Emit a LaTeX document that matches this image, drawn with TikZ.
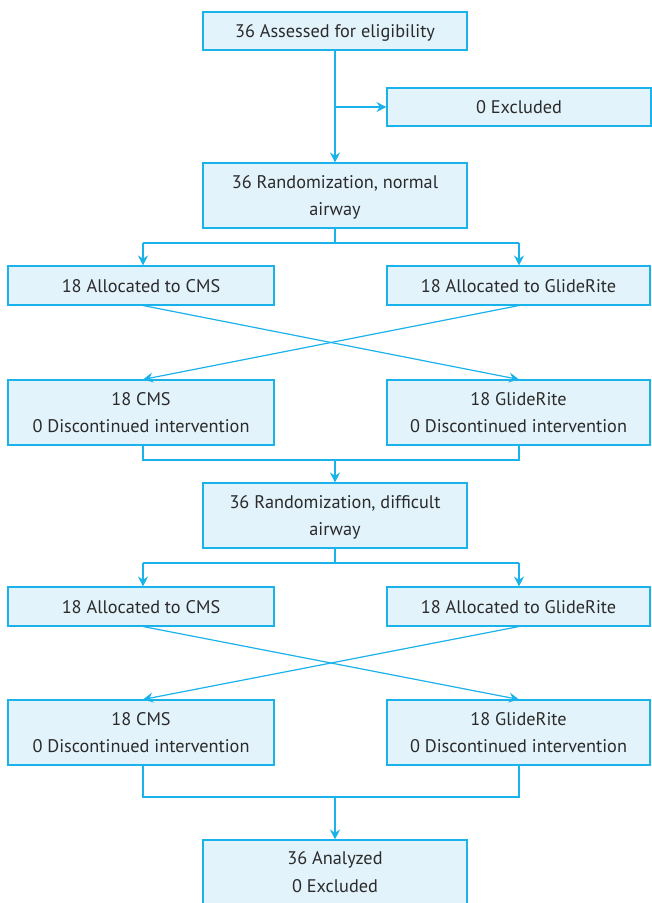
\documentclass[tikz,border=0pt]{standalone}
\usepackage{fontspec}
\setmainfont{PT Sans}
\usetikzlibrary{arrows.meta}
\definecolor{bordc}{HTML}{1AB2EA}
\definecolor{fillc}{HTML}{E2F3FB}
\definecolor{txtc}{HTML}{2B2B2B}
\tikzset{
  box/.style={draw=bordc, fill=fillc, line width=0.8pt, text=txtc, align=center,
    inner sep=0pt, text depth=0pt, font=\fontsize{13.7}{20.3}\selectfont},
  wbox/.style={box, minimum width=264*0.75pt},
  conn/.style={draw=bordc, line width=0.9pt},
  arr/.style={conn, -{Stealth[length=7.5pt,width=7.5pt,inset=2.5pt]}}
}
\begin{document}
\begin{tikzpicture}[x=0.75pt,y=-0.75pt]
\useasboundingbox (0,0) rectangle (651,903);
% boxes
\node[wbox, minimum height=38*0.75pt] (a) at (335,31) {36 Assessed for eligibility};
\node[box, minimum width=264*0.75pt, minimum height=38*0.75pt] (ex) at (519,107) {0 Excluded};
\node[wbox, minimum height=65*0.75pt] (r1) at (335,195.5) {36 Randomization, normal\\airway};
\node[box, minimum width=266*0.75pt, minimum height=39*0.75pt] (ac1) at (141,285.5) {18 Allocated to CMS};
\node[box, minimum width=263*0.75pt, minimum height=39*0.75pt] (ag1) at (518.5,285.5) {18 Allocated to GlideRite};
\node[box, minimum width=266*0.75pt, minimum height=65*0.75pt] (c1) at (141,412.5) {18 CMS\\0 Discontinued intervention};
\node[box, minimum width=263*0.75pt, minimum height=65*0.75pt] (g1) at (518.5,412.5) {18 GlideRite\\0 Discontinued intervention};
\node[wbox, minimum height=65*0.75pt] (r2) at (335,515.5) {36 Randomization, difficult\\airway};
\node[box, minimum width=266*0.75pt, minimum height=39*0.75pt] (ac2) at (141,606.5) {18 Allocated to CMS};
\node[box, minimum width=263*0.75pt, minimum height=39*0.75pt] (ag2) at (518.5,606.5) {18 Allocated to GlideRite};
\node[box, minimum width=266*0.75pt, minimum height=65*0.75pt] (c2) at (141,732.5) {18 CMS\\0 Discontinued intervention};
\node[box, minimum width=263*0.75pt, minimum height=65*0.75pt] (g2) at (518.5,732.5) {18 GlideRite\\0 Discontinued intervention};
\node[wbox, minimum height=64*0.75pt] (an) at (335,872) {36 Analyzed\\0 Excluded};
% coordinates
\coordinate (b1) at (335,107);
\coordinate (j1) at (335,243);
\coordinate (j1l) at (143,243);
\coordinate (j1r) at (519,243);
\coordinate (k1l) at (143,460);
\coordinate (k1r) at (519,460);
\coordinate (k1) at (335,460);
\coordinate (j2) at (335,563);
\coordinate (j2l) at (143,563);
\coordinate (j2r) at (519,563);
\coordinate (k2l) at (143,797);
\coordinate (k2r) at (519,797);
\coordinate (k2) at (335,797);
% connectors
\draw[arr] (a.south) -- (r1.north);
\draw[arr] (b1) -- (ex.west);
\draw[conn] (r1.south) -- (j1);
\draw[conn] (j1l) -- (j1r);
\draw[arr] (j1l) -- (ac1.north -| j1l);
\draw[arr] (j1r) -- (ag1.north -| j1r);
\draw[arr] (ac1.south -| j1l) -- (g1.north -| j1r);
\draw[arr] (ag1.south -| j1r) -- (c1.north -| j1l);
\draw[conn] (c1.south -| k1l) -- (k1l) -- (k1r) -- (g1.south -| k1r);
\draw[arr] (k1) -- (r2.north);
\draw[conn] (r2.south) -- (j2);
\draw[conn] (j2l) -- (j2r);
\draw[arr] (j2l) -- (ac2.north -| j2l);
\draw[arr] (j2r) -- (ag2.north -| j2r);
\draw[arr] (ac2.south -| j2l) -- (g2.north -| j2r);
\draw[arr] (ag2.south -| j2r) -- (c2.north -| j2l);
\draw[conn] (c2.south -| k2l) -- (k2l) -- (k2r) -- (g2.south -| k2r);
\draw[arr] (k2) -- (an.north);
\end{tikzpicture}
\end{document}
